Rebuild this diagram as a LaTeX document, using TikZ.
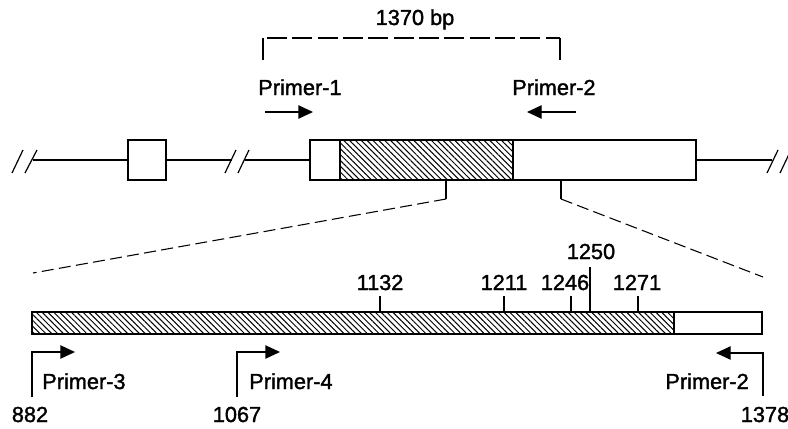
\documentclass[tikz,border=0pt]{standalone}
\usepackage{fontspec}
\setmainfont{Liberation Sans}
\font\lblfont="Liberation Sans:embolden=1.5" at 16.3pt
\usetikzlibrary{patterns.meta,arrows.meta}
\begin{document}
\begin{tikzpicture}[x=0.75pt,y=-0.75pt,
  thinline/.style={line width=0.8pt},
  boxline/.style={line width=1.4pt},
  hatch/.style={pattern={Lines[angle=-45,distance=3.1pt,line width=0.75pt]}},
  dashline/.style={line width=0.8pt,dash pattern=on 9pt off 4pt},
  longdash/.style={line width=0.8pt,dash pattern=on 15pt off 4pt},
  lbl/.style={font=\lblfont, inner sep=0pt},
  primarrow/.style={line width=1pt,-{Triangle[length=11pt,width=10pt]}},
  brk/.style={line width=0.9pt},
]
\useasboundingbox (0,0) rectangle (788,428);

% ---- 1370 bp bracket
\node[lbl,anchor=base] (bp) at (415,25) {1370 bp};
\draw[thinline] (263,60) -- (263,38);
\draw[thinline] (560,60) -- (560,38);
\draw[longdash] (267,38) -- (560,38);

% ---- primers above gene
\node[lbl,anchor=base west] (p1) at (258,95) {Primer-1};
\node[lbl,anchor=base west] (p2) at (512,95) {Primer-2};
\coordinate (p1s) at (265,112); \coordinate (p1e) at (313,112);
\coordinate (p2s) at (576,112); \coordinate (p2e) at (527,112);
\draw[primarrow] (p1s) -- (p1e);
\draw[primarrow] (p2s) -- (p2e);

% ---- gene line
\draw[thinline] (33,160) -- (128,160);
\draw[thinline] (166,160) -- (232,160);
\draw[thinline] (245,160) -- (310,160);
\draw[thinline] (696,160) -- (772,160);
% break marks
\draw[brk] (12,173) -- (23,150);
\draw[brk] (25,173) -- (37,150);
\draw[brk] (225,173) -- (236,150);
\draw[brk] (238,173) -- (249,150);
\draw[brk] (767,173) -- (778,150);
\draw[brk] (780,173) -- (791,150);

% exon boxes
\draw[boxline,fill=white] (128,140) rectangle (166,180);
\fill[hatch] (340,140) rectangle (513,180);
\draw[boxline] (310,140) rectangle (696,180);
\draw[boxline] (340,140) -- (340,180);
\draw[boxline] (513,140) -- (513,180);

% ---- zoom lines
\coordinate (zl) at (446,199); \coordinate (zr) at (561,199);
\draw[thinline] (446,180) -- (zl);
\draw[thinline] (561,180) -- (zr);
\draw[dashline] (zl) -- (33,273);
\draw[dashline] (zr) -- (763,277);

% ---- expanded bar
\fill[hatch] (32,312) rectangle (674,334);
\draw[boxline] (32,312) rectangle (762,334);
\draw[boxline] (674,312) -- (674,334);

% ticks
\draw[thinline] (380,312) -- (380,296);
\draw[thinline] (504,312) -- (504,296);
\draw[thinline] (571,312) -- (571,296);
\draw[thinline] (590,312) -- (590,267);
\draw[thinline] (638,312) -- (638,296);
\node[lbl,anchor=base] (t1132) at (380,290) {1132};
\node[lbl,anchor=base] (t1211) at (504,290) {1211};
\node[lbl,anchor=base] (t1246) at (565,290) {1246};
\node[lbl,anchor=base] (t1250) at (591,259) {1250};
\node[lbl,anchor=base] (t1271) at (637,290) {1271};

% bottom primers
\draw[primarrow] (32,397) |- (75,352);
\draw[primarrow] (237,397) |- (280,352);
\draw[primarrow] (763,396) |- (716,353);
\node[lbl,anchor=base west] (p3) at (42,389) {Primer-3};
\node[lbl,anchor=base west] (p4) at (249,389) {Primer-4};
\node[lbl,anchor=base east] (p2b) at (749,389) {Primer-2};
\node[lbl,anchor=base] (n882) at (30,422) {882};
\node[lbl,anchor=base] (n1067) at (237,422) {1067};
\node[lbl,anchor=base] (n1378) at (765,422) {1378};
\end{tikzpicture}
\end{document}
